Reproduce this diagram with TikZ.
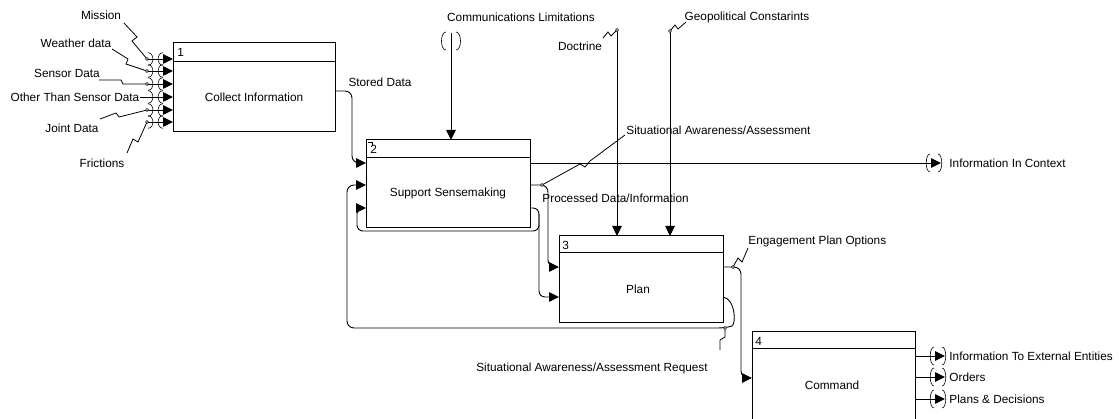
\documentclass[tikz,border=0pt]{standalone}
\usepackage{fontspec}
\setmainfont{Liberation Sans}
\usetikzlibrary{arrows.meta,calc}

\begin{document}
\begin{tikzpicture}[x=1pt,y=-1pt,line width=0.9pt,
  txt/.style={font=\fontsize{11.8}{14}\selectfont, inner sep=0pt},
  procbox/.style={draw, line width=1pt, inner sep=0pt, outer sep=0pt},
  flow/.style={-{Triangle[length=10pt,width=9.5pt]}},
  squig/.style={line width=0.8pt},
  pdot/.style={circle, draw, fill=white, line width=0.6pt, inner sep=0pt, minimum size=3pt},
  tunout/.pic={
    \draw[line width=0.6pt] (-11,-9) .. controls (-16,-9) and (-16,9) .. (-11,9);
    \draw[line width=0.6pt] (-3,-9) .. controls (2,-9) and (2,9) .. (-3,9);
  },
  tunin/.pic={
    \draw[line width=0.6pt] (1,-6.3) .. controls (7.5,-6.3) and (7.5,6.3) .. (1,6.3);
    \draw[line width=0.6pt] (16,-6.3) .. controls (9.5,-6.3) and (9.5,6.3) .. (16,6.3);
  }]
\useasboundingbox (0,0) rectangle (1119,419);
\fill[white] (0,0) rectangle (1119,419);
\clip (0,0) rectangle (1119,419);

% ---- activity boxes ----
\node[procbox, minimum width=162pt, minimum height=89pt] (b1) at (254,87.5) {};
\node[procbox, minimum width=164pt, minimum height=88pt] (b2) at (448,184) {};
\node[procbox, minimum width=164pt, minimum height=87pt] (b3) at (641,279.5) {};
\node[procbox, minimum width=163pt, minimum height=98pt] (b4) at (833.5,381) {};
\draw[line width=1pt] ($(b1.north west)+(0,19)$) -- ($(b1.north east)+(0,19)$);
\draw[line width=1pt] ($(b2.north west)+(0,18)$) -- ($(b2.north east)+(0,18)$);
\draw[line width=1pt] ($(b3.north west)+(0,17)$) -- ($(b3.north east)+(0,17)$);
\draw[line width=1pt] ($(b4.north west)+(0,17)$) -- ($(b4.north east)+(0,17)$);
\node[txt, anchor=west] (n1) at (177,52) {1};
\node[txt, anchor=west] (n2) at (370,149) {2};
\node[txt, anchor=west] (n3) at (562,245) {3};
\node[txt, anchor=west] (n4) at (755,341) {4};
\draw[line width=0.6pt] (368,142) -- (372,142) -- (372,146);
\node[txt] (t1) at (254,97) {Collect Information};
\node[txt] (t2) at (448,193) {Support Sensemaking};
\node[txt] (t3) at (638,289) {Plan};
\node[txt] (t4) at (832,385) {Command};

% ---- inputs of activity 1 ----
\node[txt] (m1) at (101,15) {Mission};
\node[txt] (m2) at (76,43) {Weather data};
\node[txt] (m3) at (67,73) {Sensor Data};
\node[txt] (m4) at (75,97) {Other Than Sensor Data};
\node[txt] (m5) at (72,128) {Joint Data};
\node[txt] (m6) at (102,163) {Frictions};
\coordinate (d1) at (147,59);
\coordinate (d2) at (147,71);
\coordinate (d3) at (147,84);
\coordinate (d4) at (147,97);
\coordinate (d5) at (147,110);
\coordinate (d6) at (147,122);
\draw[squig] (124,23) -- (137,37) -- (132,41) -- (d1);
\draw[squig] (112,49) -- (128,59) -- (126,64) -- (d2);
\draw[squig] (99,80) -- (121,80) -- (123,84) -- (d3);
\draw[squig] (m4.east) -- (d4);
\draw[squig] (100,119) -- (116,113) -- (119,117) -- (d5);
\draw[squig] (127,153) -- (133,139) -- (138,142) -- (d6);
\foreach \d in {d1,d2,d3,d4,d5,d6} {
  \draw[flow] (\d) -- (b1.west |- \d);
  \pic at (\d) {tunin};
}
\foreach \d in {d1,d2,d3,d5,d6} \node[pdot] at (\d) {};

% ---- stored data ----
\node[txt] (sd) at (380,82) {Stored Data};
\draw[flow, rounded corners=7pt] (b1.east |- 0,91) -- (352,91) -- (352,163) -- (b2.west |- 0,163);

% ---- controls ----
\node[txt] (cl) at (521,17) {Communications Limitations};
\coordinate (ct) at (451,33);
\draw[flow] (ct) -- (b2.north -| ct);
\draw[line width=0.6pt] (446,32) .. controls (440,32) and (440,50) .. (446,50);
\draw[line width=0.6pt] (456,32) .. controls (462,32) and (462,50) .. (456,50);

\node[txt] (doc) at (580,46) {Doctrine};
\coordinate (dt) at (617,30);
\draw[squig] (603,38) -- (608,32) -- (611,36) -- (dt);
\draw[flow] (dt) -- (b3.north -| dt);
\node[pdot] at (dt) {};

\node[txt] (geo) at (747,17) {Geopolitical Constarints};
\coordinate (gt) at (670,31);
\draw[squig] (gt) -- (675,25) -- (678,29) -- (686,22);
\draw[flow] (gt) -- (b3.north -| gt);
\node[pdot] at (gt) {};

% ---- outputs of activity 2 ----
\node[txt, anchor=west] (iic) at (949,163) {Information In Context};
\coordinate (iict) at (941,163);
\draw[flow] (b2.east |- 0,163) -- (iict);
\pic at (iict) {tunout};

\node[txt, anchor=west] (sa) at (626,130) {Situational Awareness/Assessment};
\coordinate (sad) at (542,185);
\draw[squig] (sad) -- (580,164) -- (585,167) -- (590,161) -- (625,135);

\node[txt, anchor=west] (pdi) at (542,198) {Processed Data/Information};
\draw[flow, rounded corners=7pt] (b2.east |- 0,185) -- (548,185) -- (548,267) -- (b3.west |- 0,267);
\node[pdot] at (sad) {};

\draw[flow, rounded corners=6pt] (b2.east |- 0,208) -- (539,208) -- (539,297) -- (b3.west |- 0,297);
\draw[flow, rounded corners=6pt] (539,214) -- (539,231) -- (357,231) -- (357,208) -- (b2.west |- 0,208);

% ---- feedback from activity 3 ----
\coordinate (rq) at (725,328);
\draw[flow, rounded corners=7pt] (b3.east |- 0,297) .. controls (736,299) and (736,325) .. (rq) -- (347,328) -- (347,185) -- (b2.west |- 0,185);
\draw[squig] (rq) -- (725,337) -- (720,340) -- (720,350);
\node[pdot] at (rq) {};
\node[txt] (rql) at (592,368) {Situational Awareness/Assessment Request};

% ---- engagement plan options ----
\node[txt, anchor=west] (epo) at (748,241) {Engagement Plan Options};
\coordinate (ed) at (733,267);
\draw[flow, rounded corners=7pt] (b3.east |- ed) -- (741,267) -- (741,378) -- (b4.west |- 0,378);
\draw[squig] (ed) -- (738,258) -- (742,262) -- (748,248);
\node[pdot] at (ed) {};

% ---- outputs of activity 4 ----
\coordinate (o1) at (945,356);
\coordinate (o2) at (945,377);
\coordinate (o3) at (945,399);
\foreach \o in {o1,o2,o3} {
  \draw[flow] (b4.east |- \o) -- (\o);
  \pic at (\o) {tunout};
}
\node[txt, anchor=west] (ol1) at (949,356) {Information To External Entities};
\node[txt, anchor=west] (ol2) at (949,377) {Orders};
\node[txt, anchor=west] (ol3) at (949,399) {Plans \& Decisions};
\end{tikzpicture}
\end{document}
